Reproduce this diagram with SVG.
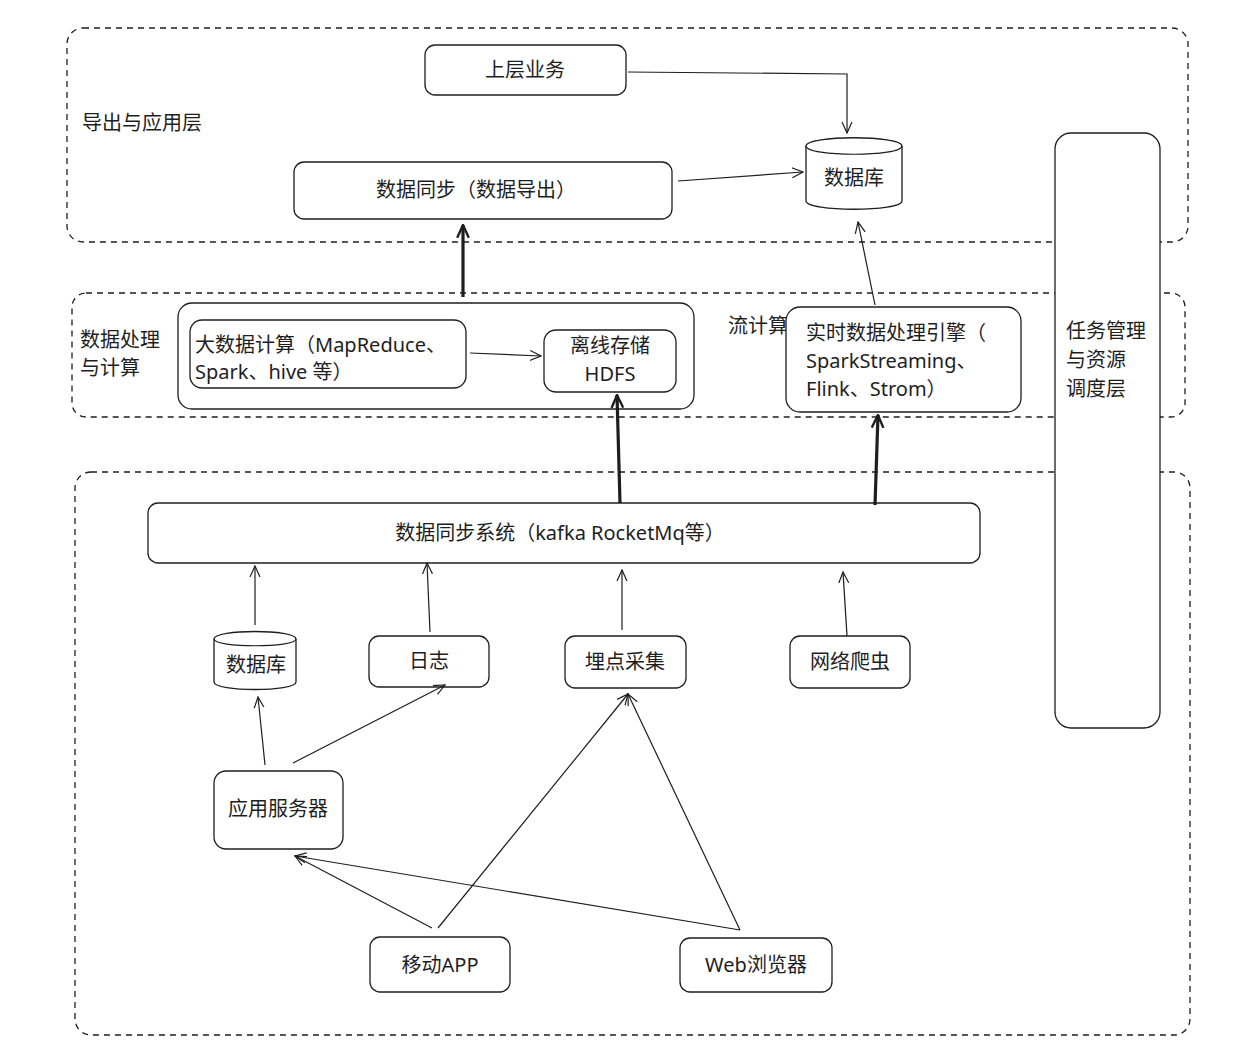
<svg xmlns="http://www.w3.org/2000/svg" width="1260" height="1055" viewBox="0 0 1260 1055">
<style>
text{font-family:"Noto Sans","Noto Sans CJK SC",sans-serif;font-size:20px;fill:#1e1e1e}
.c{text-anchor:middle}
.box{fill:#fff;stroke:#1e1e1e;stroke-width:1.3}
.grp{fill:none;stroke:#1e1e1e;stroke-width:1.3;stroke-dasharray:6 5}
.ln{fill:none;stroke:#1e1e1e;stroke-width:1.2;marker-end:url(#a)}
.th{fill:none;stroke:#1e1e1e;stroke-width:3.2;marker-end:url(#b)}
</style>
<defs>
<marker id="a" viewBox="0 0 12 12" refX="11" refY="6" markerWidth="12" markerHeight="12" markerUnits="userSpaceOnUse" orient="auto"><path d="M0,1 L11,6 L0,11" fill="none" stroke="#1e1e1e" stroke-width="1.2"/></marker>
<marker id="b" viewBox="0 0 12 12" refX="11" refY="6" markerWidth="14" markerHeight="14" markerUnits="userSpaceOnUse" orient="auto"><path d="M0,1 L11,6 L0,11" fill="none" stroke="#1e1e1e" stroke-width="2"/></marker>
</defs>
<rect width="1260" height="1055" fill="#fff"/>
<g id="groups">
<rect class="grp" x="67" y="28" width="1121" height="214" rx="16"/>
<rect class="grp" x="72" y="293" width="1113" height="124" rx="14"/>
<rect class="grp" x="75" y="472" width="1115" height="563" rx="16"/>
<text x="82" y="130">导出与应用层</text>
<text x="80" y="347">数据处理</text>
<text x="80" y="375">与计算</text>
<text x="728" y="333">流计算</text>
</g>
<g id="n-biz"><rect class="box" x="425" y="45" width="201" height="50" rx="10"/><text class="c" x="525" y="77">上层业务</text></g>
<g id="n-export"><rect class="box" x="294" y="162" width="378" height="57" rx="10"/><text class="c" x="476" y="197">数据同步（数据导出）</text></g>
<g id="n-db1"><path class="box" d="M806,146 C806,135 902,135 902,146 L902,201 C902,212 806,212 806,201 Z"/><path d="M806,146 C806,157 902,157 902,146" fill="none" stroke="#1e1e1e" stroke-width="1.2"/><text class="c" x="854" y="185">数据库</text></g>
<g id="n-task"><rect class="box" x="1055" y="133" width="105" height="595" rx="16"/><text x="1066" y="338">任务管理</text><text x="1066" y="367">与资源</text><text x="1066" y="396">调度层</text></g>
<g id="n-proc"><rect class="box" x="178" y="303" width="516" height="106" rx="14"/></g>
<g id="n-big"><rect class="box" x="190" y="320" width="276" height="68" rx="12"/><text x="195" y="352">大数据计算（MapReduce、</text><text x="195" y="379">Spark、hive 等）</text></g>
<g id="n-hdfs"><rect class="box" x="544" y="330" width="132" height="62" rx="12"/><text class="c" x="610" y="353">离线存储</text><text class="c" x="610" y="381">HDFS</text></g>
<g id="n-rt"><rect class="box" x="786" y="307" width="235" height="105" rx="14"/><text x="806" y="340">实时数据处理引擎（</text><text x="806" y="368">SparkStreaming、</text><text x="806" y="396">Flink、Strom）</text></g>
<g id="n-sync"><rect class="box" x="148" y="503" width="832" height="60" rx="10"/><text class="c" x="560" y="540">数据同步系统（kafka RocketMq等）</text></g>
<g id="n-db2"><path class="box" d="M214,639 C214,629 296,629 296,639 L296,682 C296,692 214,692 214,682 Z"/><path d="M214,639 C214,648 296,648 296,639" fill="none" stroke="#1e1e1e" stroke-width="1.2"/><text class="c" x="256" y="672">数据库</text></g>
<g id="n-log"><rect class="box" x="369" y="636" width="120" height="51" rx="10"/><text class="c" x="429" y="668">日志</text></g>
<g id="n-track"><rect class="box" x="565" y="636" width="121" height="52" rx="10"/><text class="c" x="625" y="669">埋点采集</text></g>
<g id="n-crawl"><rect class="box" x="790" y="636" width="120" height="52" rx="10"/><text class="c" x="850" y="669">网络爬虫</text></g>
<g id="n-app"><rect class="box" x="214" y="771" width="129" height="78" rx="12"/><text class="c" x="278" y="816">应用服务器</text></g>
<g id="n-mobile"><rect class="box" x="370" y="937" width="140" height="55" rx="10"/><text class="c" x="440" y="972">移动APP</text></g>
<g id="n-web"><rect class="box" x="680" y="938" width="152" height="54" rx="10"/><text class="c" x="756" y="972">Web浏览器</text></g>
<g id="connectors">
<path class="ln" d="M628,72 L847,74 L847,133"/>
<path class="ln" d="M678,181 L803,172"/>
<path class="ln" d="M875,305 L858,222"/>
<path class="th" d="M463,297 L463,225"/>
<path class="ln" d="M470,353 L541,356"/>
<path class="th" d="M620,503 L617,395"/>
<path class="th" d="M875,505 L878,415"/>
<path class="ln" d="M255,625 L255,566"/>
<path class="ln" d="M430,632 L427,563"/>
<path class="ln" d="M622,630 L622,570"/>
<path class="ln" d="M847,636 L843,572"/>
<path class="ln" d="M265,765 L258,697"/>
<path class="ln" d="M293,763 L445,685"/>
<path class="ln" d="M432,928 L295,856"/>
<path class="ln" d="M438,928 L628,694"/>
<path class="ln" d="M740,930 L628,694"/>
<path class="ln" d="M740,930 L295,856"/>
</g>
</svg>
